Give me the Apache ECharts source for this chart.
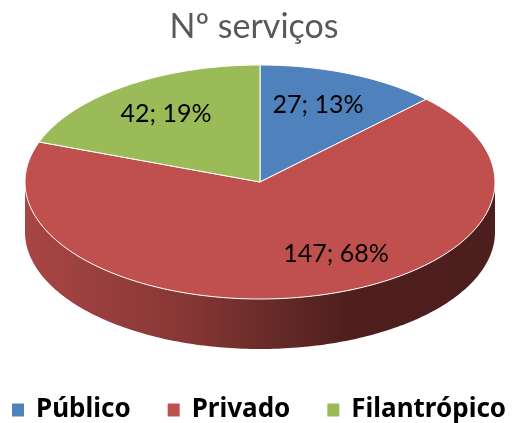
<!DOCTYPE html>
<html>
<head>
<meta charset="utf-8">
<style>html,body{margin:0;padding:0;background:#fff}#chart{width:512px;height:423px}</style>
<script src="https://cdn.jsdelivr.net/npm/echarts@6/dist/echarts.min.js"></script>
</head>
<body>
<div id="chart"></div>
<script>
var categories = ['Público', 'Privado', 'Filantrópico'];
var values = [27, 147, 42];
var colors = ['#4f81bd', '#c0504d', '#9bbb59'];
var titleText = 'Nº serviços';

var total = values.reduce(function (a, b) { return a + b; }, 0);
var cx = 260, cy = 182, rx = 235, ry = 117, depth = 50;
var labelPos = [[318, 105], [336, 254], [166, 114]];

// angles are clockwise from 12 o'clock
function pt(a, dy) {
    return [cx + rx * Math.sin(a), cy - ry * Math.cos(a) + (dy || 0)];
}
function arc(a0, a1, dy) {
    var pts = [], n = Math.max(2, Math.ceil((a1 - a0) * 60));
    for (var i = 0; i <= n; i++) pts.push(pt(a0 + (a1 - a0) * i / n, dy));
    return pts;
}

var series = categories.map(function (name, idx) {
    var before = values.slice(0, idx).reduce(function (a, b) { return a + b; }, 0);
    return {
        name: name,
        type: 'custom',
        coordinateSystem: 'none',
        itemStyle: { color: colors[idx] },
        silent: true,
        data: [[values[idx]]],
        renderItem: function (params, api) {
            var v = api.value(0);
            var a0 = before / total * Math.PI * 2;
            var a1 = a0 + v / total * Math.PI * 2;
            var children = [];
            // visible wall is only the front half of the ellipse
            var s0 = Math.max(a0, Math.PI / 2), s1 = Math.min(a1, Math.PI * 1.5);
            if (s1 > s0) {
                children.push({
                    type: 'polygon',
                    shape: { points: arc(s0, s1, 0).concat(arc(s0, s1, depth).reverse()) },
                    style: {
                        fill: new echarts.graphic.LinearGradient(cx - rx, 0, cx + rx, 0, [
                            { offset: 0, color: '#a84644' },
                            { offset: 0.36, color: '#853634' },
                            { offset: 0.5, color: '#6b2c2a' },
                            { offset: 0.68, color: '#4f1f1e' },
                            { offset: 1, color: '#4c1e1d' }
                        ], true)
                    }
                });
            }
            children.push({
                type: 'polygon',
                shape: { points: [[cx, cy]].concat(arc(a0, a1, 0)) },
                style: { fill: colors[idx], stroke: '#fff', lineWidth: 1, lineJoin: 'round' }
            });
            children.push({
                type: 'text',
                style: {
                    x: labelPos[idx][0],
                    y: labelPos[idx][1],
                    text: v + '; ' + Math.round(v / total * 100) + '%',
                    fill: '#000',
                    font: '25px Lato',
                    align: 'center',
                    verticalAlign: 'middle'
                }
            });
            return { type: 'group', children: children };
        }
    };
});

var option = {
    animation: false,
    title: {
        text: titleText,
        left: 249,
        top: 5,
        textAlign: 'center',
        textStyle: { color: '#595959', fontFamily: 'Lato', fontSize: 34, fontWeight: 'normal' }
    },
    legend: {
        data: categories,
        left: 12,
        top: 397,
        padding: 0,
        icon: 'rect',
        itemWidth: 12,
        itemHeight: 13,
        itemGap: 37,
        textStyle: { color: '#000', fontFamily: 'Noto Sans', fontSize: 26, fontWeight: 'bold', padding: [0, 0, 0, 7] }
    },
    series: series
};
echarts.init(document.getElementById('chart'), null, { renderer: 'canvas' }).setOption(option);
</script>
</body>
</html>
